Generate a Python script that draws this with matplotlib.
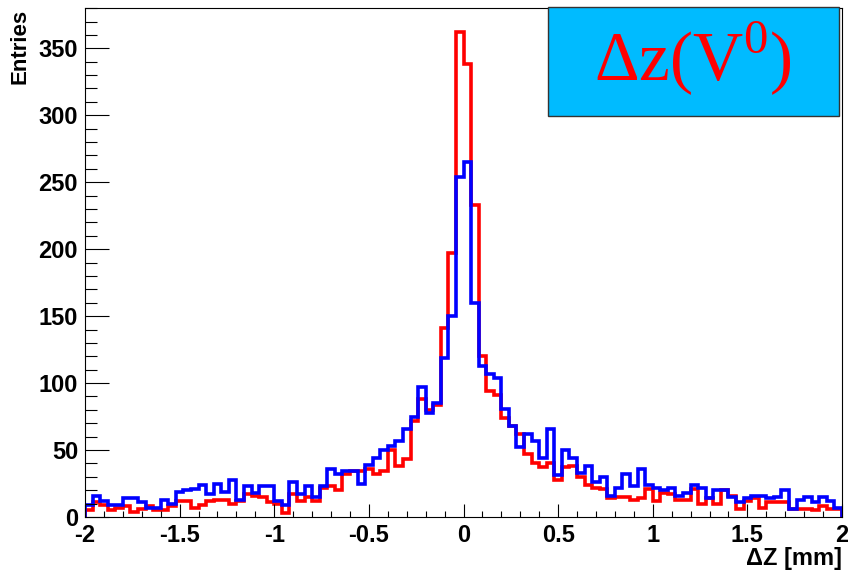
import matplotlib
matplotlib.use('Agg')
import matplotlib.pyplot as plt
import numpy as np
from matplotlib.patches import Rectangle
from matplotlib.ticker import MultipleLocator

plt.rcParams.update({'font.family': 'Liberation Sans',
                     'mathtext.fontset': 'custom',
                     'mathtext.rm': 'Liberation Serif'})

# 100 bins of 0.04 mm between -2 and 2
bin_edges = np.linspace(-2.0, 2.0, 101)

red_counts = [5, 11, 9, 5, 7, 8, 4, 6, 8, 5,
              5, 8, 12, 12, 7, 9, 12, 13, 13, 10,
              12, 17, 16, 15, 11, 10, 3, 17, 12, 15,
              12, 22, 23, 20, 32, 34, 34, 36, 32, 34,
              50, 38, 43, 72, 88, 80, 84, 141, 197, 362,
              338, 233, 120, 94, 91, 74, 68, 62, 47, 40,
              37, 40, 28, 37, 38, 30, 24, 22, 21, 14,
              15, 15, 13, 14, 21, 12, 18, 17, 13, 13,
              21, 10, 14, 10, 20, 16, 6, 12, 14, 7,
              11, 11, 11, 6, 6, 6, 5, 8, 6, 6]

blue_counts = [9, 16, 12, 9, 9, 14, 14, 11, 7, 7,
               13, 10, 19, 20, 21, 24, 17, 25, 19, 28,
               13, 23, 18, 23, 23, 12, 9, 26, 17, 23,
               15, 23, 36, 32, 34, 34, 25, 39, 44, 50,
               53, 57, 66, 75, 97, 78, 85, 119, 150, 254,
               265, 160, 113, 107, 104, 81, 68, 52, 62, 57,
               44, 66, 31, 50, 44, 33, 38, 26, 30, 16,
               22, 32, 23, 36, 24, 22, 20, 22, 16, 18,
               24, 22, 14, 20, 20, 15, 11, 14, 16, 16,
               14, 15, 20, 6, 13, 15, 11, 15, 12, 7]

x_ticks = [-2, -1.5, -1, -0.5, 0, 0.5, 1, 1.5, 2]
x_tick_labels = ['-2', '-1.5', '-1', '-0.5', '0', '0.5', '1', '1.5', '2']


def draw_hist(ax):
    ax.stairs(red_counts, bin_edges, color='#ff0000', lw=2.6, baseline=0)
    ax.stairs(blue_counts, bin_edges, color='#0000ff', lw=2.6, baseline=0)

    ax.set_xlim(-2, 2)
    ax.set_ylim(0, 1.05 * max(max(red_counts), max(blue_counts)))

    ax.set_xticks(x_ticks)
    ax.set_xticklabels(x_tick_labels)
    ax.xaxis.set_minor_locator(MultipleLocator(0.1))
    ax.yaxis.set_major_locator(MultipleLocator(50))
    ax.yaxis.set_minor_locator(MultipleLocator(10))

    ax.tick_params(axis='both', which='both', direction='in', width=0.8,
                   labelsize=17, top=False, right=False)
    ax.tick_params(axis='x', which='major', length=9.5, pad=5)
    ax.tick_params(axis='x', which='minor', length=4.5)
    ax.tick_params(axis='y', which='major', length=17, pad=5)
    ax.tick_params(axis='y', which='minor', length=8.5)
    for lab in ax.get_xticklabels() + ax.get_yticklabels():
        lab.set_fontweight('bold')
    for sp in ax.spines.values():
        sp.set_linewidth(0.8)


fig = plt.figure(figsize=(8.48, 5.70), dpi=100)
ax = fig.add_axes([85 / 848, 53 / 570, 757 / 848, 509 / 570])
draw_hist(ax)

fig.text(20 / 848, 1 - 9 / 570, 'Entries', rotation=90, ha='center', va='top',
         fontsize=16, fontweight='bold')
fig.text(842 / 848, 1 - 558 / 570, '\u0394Z [mm]', ha='right', va='center',
         fontsize=17, fontweight='bold')

# title pave in the upper right corner
box = Rectangle((548 / 848, 1 - 116 / 570), 291 / 848, 109 / 570,
                transform=fig.transFigure, facecolor='#00bbff',
                edgecolor='#333333', lw=1.0, zorder=5)
fig.patches.append(box)
fig.text(693 / 848, 1 - 59 / 570, '\u0394z(V$^{0}$)', ha='center', va='center',
         color='#ff0000', fontsize=50, family='Liberation Serif', zorder=6)

fig.savefig('out.png', dpi=100)
